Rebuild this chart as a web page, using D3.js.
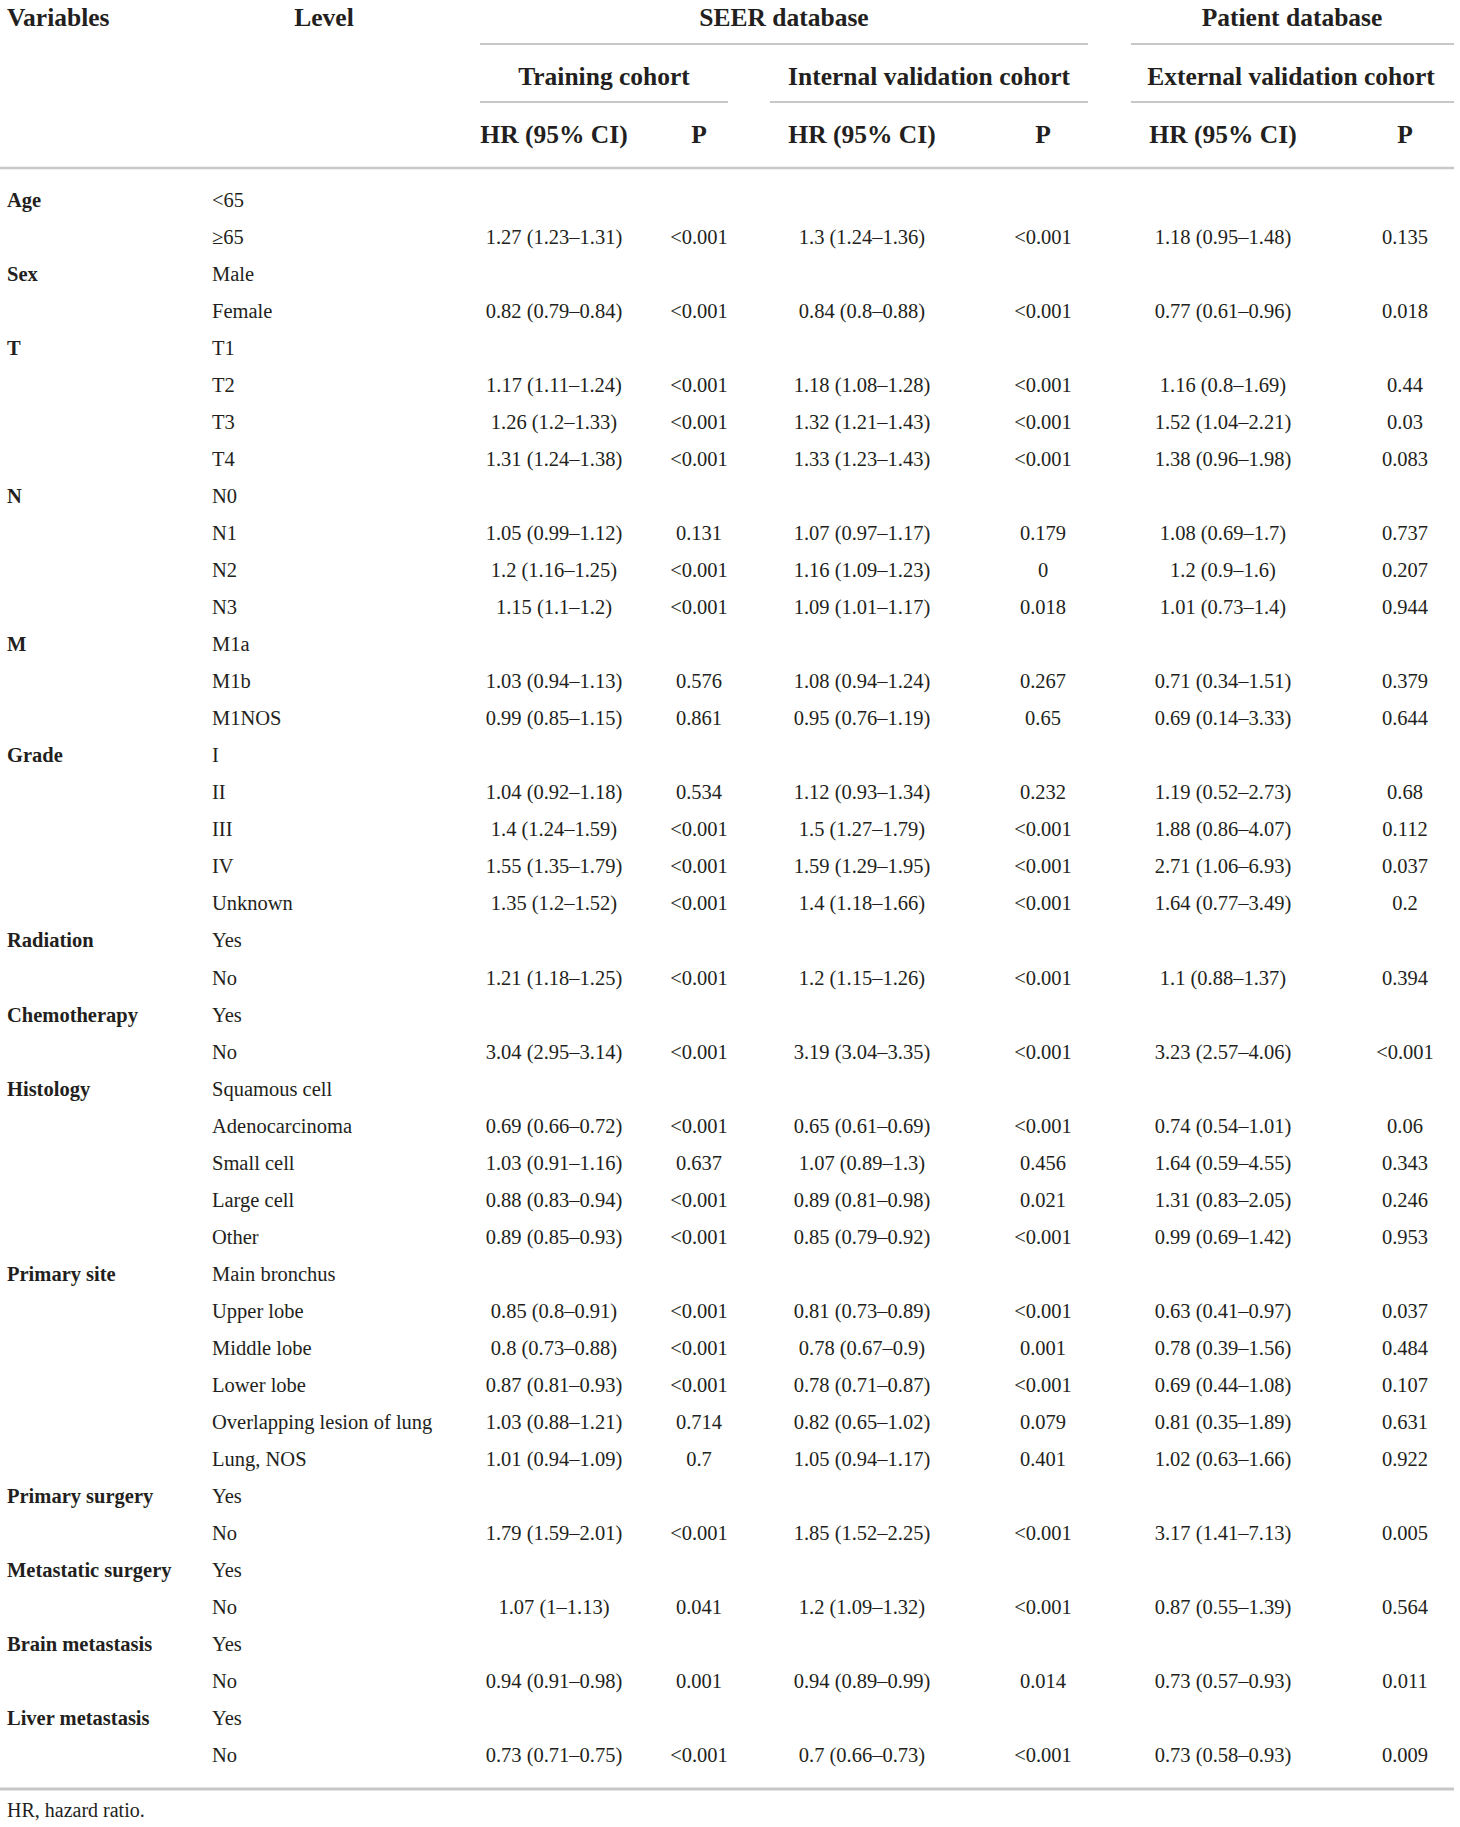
<!DOCTYPE html>
<html>
<head>
<meta charset="utf-8">
<script src="https://cdn.jsdelivr.net/npm/d3@7"></script>
<style>
  body { margin: 0; background: #fff; }
  text { font-family: "Liberation Serif", "Times New Roman", serif; fill: #231f20; }
</style>
</head>
<body>
<div id="table"></div>
<script>
// variables and their levels (first level is the reference)
var variables = ["Age", "Sex", "T", "N", "M", "Grade", "Radiation", "Chemotherapy", "Histology",
                 "Primary site", "Primary surgery", "Metastatic surgery", "Brain metastasis", "Liver metastasis"]
var levels = [
    ["<65", "≥65"],
    ["Male", "Female"],
    ["T1", "T2", "T3", "T4"],
    ["N0", "N1", "N2", "N3"],
    ["M1a", "M1b", "M1NOS"],
    ["I", "II", "III", "IV", "Unknown"],
    ["Yes", "No"],
    ["Yes", "No"],
    ["Squamous cell", "Adenocarcinoma", "Small cell", "Large cell", "Other"],
    ["Main bronchus", "Upper lobe", "Middle lobe", "Lower lobe", "Overlapping lesion of lung", "Lung, NOS"],
    ["Yes", "No"],
    ["Yes", "No"],
    ["Yes", "No"],
    ["Yes", "No"]
]

// HR [estimate, lower, upper] for every non-reference level, in table order
var trainHR = [[1.27,1.23,1.31],[0.82,0.79,0.84],[1.17,1.11,1.24],[1.26,1.2,1.33],[1.31,1.24,1.38],
    [1.05,0.99,1.12],[1.2,1.16,1.25],[1.15,1.1,1.2],[1.03,0.94,1.13],[0.99,0.85,1.15],
    [1.04,0.92,1.18],[1.4,1.24,1.59],[1.55,1.35,1.79],[1.35,1.2,1.52],[1.21,1.18,1.25],
    [3.04,2.95,3.14],[0.69,0.66,0.72],[1.03,0.91,1.16],[0.88,0.83,0.94],[0.89,0.85,0.93],
    [0.85,0.8,0.91],[0.8,0.73,0.88],[0.87,0.81,0.93],[1.03,0.88,1.21],[1.01,0.94,1.09],
    [1.79,1.59,2.01],[1.07,1,1.13],[0.94,0.91,0.98],[0.73,0.71,0.75]]
var trainP = ["<0.001","<0.001","<0.001","<0.001","<0.001","0.131","<0.001","<0.001","0.576","0.861",
    "0.534","<0.001","<0.001","<0.001","<0.001","<0.001","<0.001","0.637","<0.001","<0.001",
    "<0.001","<0.001","<0.001","0.714","0.7","<0.001","0.041","0.001","<0.001"]

var internalHR = [[1.3,1.24,1.36],[0.84,0.8,0.88],[1.18,1.08,1.28],[1.32,1.21,1.43],[1.33,1.23,1.43],
    [1.07,0.97,1.17],[1.16,1.09,1.23],[1.09,1.01,1.17],[1.08,0.94,1.24],[0.95,0.76,1.19],
    [1.12,0.93,1.34],[1.5,1.27,1.79],[1.59,1.29,1.95],[1.4,1.18,1.66],[1.2,1.15,1.26],
    [3.19,3.04,3.35],[0.65,0.61,0.69],[1.07,0.89,1.3],[0.89,0.81,0.98],[0.85,0.79,0.92],
    [0.81,0.73,0.89],[0.78,0.67,0.9],[0.78,0.71,0.87],[0.82,0.65,1.02],[1.05,0.94,1.17],
    [1.85,1.52,2.25],[1.2,1.09,1.32],[0.94,0.89,0.99],[0.7,0.66,0.73]]
var internalP = ["<0.001","<0.001","<0.001","<0.001","<0.001","0.179","0","0.018","0.267","0.65",
    "0.232","<0.001","<0.001","<0.001","<0.001","<0.001","<0.001","0.456","0.021","<0.001",
    "<0.001","0.001","<0.001","0.079","0.401","<0.001","<0.001","0.014","<0.001"]

var externalHR = [[1.18,0.95,1.48],[0.77,0.61,0.96],[1.16,0.8,1.69],[1.52,1.04,2.21],[1.38,0.96,1.98],
    [1.08,0.69,1.7],[1.2,0.9,1.6],[1.01,0.73,1.4],[0.71,0.34,1.51],[0.69,0.14,3.33],
    [1.19,0.52,2.73],[1.88,0.86,4.07],[2.71,1.06,6.93],[1.64,0.77,3.49],[1.1,0.88,1.37],
    [3.23,2.57,4.06],[0.74,0.54,1.01],[1.64,0.59,4.55],[1.31,0.83,2.05],[0.99,0.69,1.42],
    [0.63,0.41,0.97],[0.78,0.39,1.56],[0.69,0.44,1.08],[0.81,0.35,1.89],[1.02,0.63,1.66],
    [3.17,1.41,7.13],[0.87,0.55,1.39],[0.73,0.57,0.93],[0.73,0.58,0.93]]
var externalP = ["0.135","0.018","0.44","0.03","0.083","0.737","0.207","0.944","0.379","0.644",
    "0.68","0.112","0.037","0.2","0.394","<0.001","0.06","0.343","0.246","0.953",
    "0.037","0.484","0.107","0.631","0.922","0.005","0.564","0.011","0.009"]

var databases = ["SEER database", "Patient database"]
var cohorts = ["Training cohort", "Internal validation cohort", "External validation cohort"]
var footnote = "HR, hazard ratio."

var width = 1460, height = 1827

var svg = d3.select("#table")
    .append("svg")
    .attr("width", width)
    .attr("height", height)

// build flat rows from the arrays
var rows = []
var k = 0
variables.forEach(function(v, i) {
    levels[i].forEach(function(l, j) {
        var r = {variable: j == 0 ? v : "", level: l}
        if (j > 0) {
            r.cells = [trainHR[k], trainP[k], internalHR[k], internalP[k], externalHR[k], externalP[k]]
            k++
        }
        rows.push(r)
    })
})

var fmt = function(h) { return h[0] + " (" + h[1] + "–" + h[2] + ")" }

// row baselines and column centres
var scale_y = d3.scaleLinear()
    .domain([0, rows.length - 1])
    .range([207, 1762])

var colX = d3.scaleOrdinal()
    .domain([0, 1, 2, 3, 4, 5])
    .range([554, 699, 862, 1043, 1223, 1405])

var lineCol = "#c8c8c8"

// header rules
var rules = [
    {x1: 480, x2: 1088, y: 44, w: 2},
    {x1: 1131, x2: 1454, y: 44, w: 2},
    {x1: 480, x2: 728, y: 102, w: 2},
    {x1: 770, x2: 1088, y: 102, w: 2},
    {x1: 1131, x2: 1454, y: 102, w: 2},
    {x1: 0, x2: 1454, y: 168, w: 2.5},
    {x1: 0, x2: 1454, y: 1789, w: 3}
]
svg.selectAll("line.rule")
    .data(rules)
    .enter()
    .append("line")
    .attr("class", "rule")
    .attr("x1", d => d.x1)
    .attr("x2", d => d.x2)
    .attr("y1", d => d.y)
    .attr("y2", d => d.y)
    .attr("stroke", lineCol)
    .attr("stroke-width", d => d.w)

// header text
var head = svg.append("g")
    .style("font-weight", "bold")
    .style("font-size", "25.5px")

head.append("text").attr("x", 7).attr("y", 26).text("Variables")
head.append("text").attr("x", 324).attr("y", 26).attr("text-anchor", "middle").text("Level")

head.selectAll("text.db")
    .data(databases)
    .enter()
    .append("text")
    .attr("class", "db")
    .attr("x", (d, i) => [784, 1292][i])
    .attr("y", 26)
    .attr("text-anchor", "middle")
    .text(d => d)

head.selectAll("text.cohort")
    .data(cohorts)
    .enter()
    .append("text")
    .attr("class", "cohort")
    .attr("x", (d, i) => [604, 929, 1291][i])
    .attr("y", 85)
    .attr("text-anchor", "middle")
    .text(d => d)

head.selectAll("text.sub")
    .data(["HR (95% CI)", "P", "HR (95% CI)", "P", "HR (95% CI)", "P"])
    .enter()
    .append("text")
    .attr("class", "sub")
    .attr("x", (d, i) => colX(i))
    .attr("y", 143)
    .attr("text-anchor", "middle")
    .text(d => d)

// body rows
var body = svg.append("g").style("font-size", "20.5px")

var rowG = body.selectAll("g.row")
    .data(rows)
    .enter()
    .append("g")
    .attr("class", "row")
    .attr("transform", (d, i) => "translate(0," + scale_y(i) + ")")

rowG.append("text")
    .attr("x", 7)
    .style("font-weight", "bold")
    .text(d => d.variable)

rowG.append("text")
    .attr("x", 212)
    .text(d => d.level)

rowG.filter(d => d.cells)
    .selectAll("text.cell")
    .data(d => d.cells)
    .enter()
    .append("text")
    .attr("class", "cell")
    .attr("x", (d, i) => colX(i))
    .attr("text-anchor", "middle")
    .text((d, i) => i % 2 == 0 ? fmt(d) : d)

svg.append("text")
    .attr("x", 7)
    .attr("y", 1817)
    .style("font-size", "20px")
    .text(footnote)
</script>
</body>
</html>
